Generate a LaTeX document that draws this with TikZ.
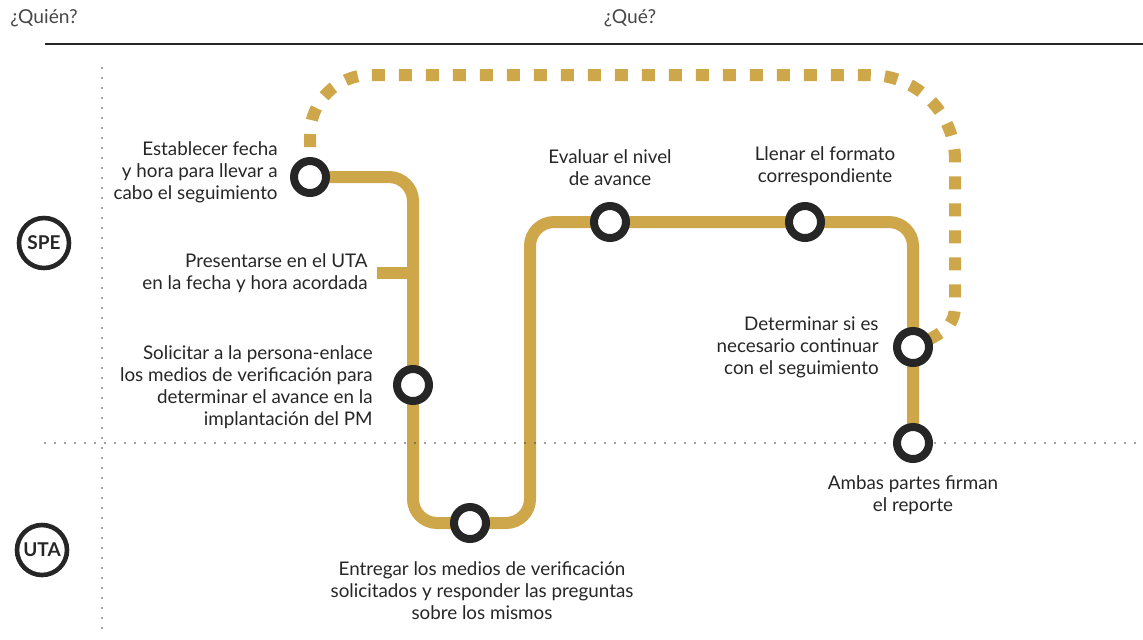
\documentclass[tikz,border=0pt]{standalone}
\usepackage{fontspec}
\setmainfont{Lato}
\usetikzlibrary{positioning,backgrounds}
\definecolor{oro}{RGB}{205,167,74}
\definecolor{tinta}{RGB}{38,38,38}
\definecolor{gris}{RGB}{70,70,70}
\tikzstyle{linea} = [draw=oro, line width=6pt, rounded corners=12pt]
\tikzstyle{punteada} = [draw=oro, line width=6pt, dash pattern=on 6.5pt off 7pt, dash phase=8.5pt]
\tikzstyle{estacion} = [circle, draw=tinta, fill=white, line width=4pt, minimum size=16pt, inner sep=0pt]
\tikzstyle{actor} = [circle, draw=tinta, line width=2.3pt, minimum size=25pt, inner sep=0pt, text=tinta, font=\fontsize{9.5}{11}\bfseries]
\tikzstyle{texto} = [text=tinta, inner sep=0pt, font=\fontsize{9.4}{11}\selectfont]
\tikzstyle{guia} = [draw=gris, line width=0.9pt, dash pattern=on 0pt off 5pt, line cap=round]

\begin{document}
\begin{tikzpicture}[x=0.5pt,y=-0.5pt]
\useasboundingbox (0,0) rectangle (1143,639);
% encabezado
\node[texto, text=gris, font=\fontsize{9.6}{11}\selectfont] (quien) at (44,18) {¿Quién?};
\node[texto, text=gris, font=\fontsize{9.6}{11}\selectfont] (que) at (630,18) {¿Qué?};
\draw[tinta, line width=1pt] (45,44) -- (1143,44);
\draw[guia] (102,68) -- (102,632);
\draw[guia] (45,443) -- (1143,443);

% actores
\node[actor] (spe) at (44,243) {SPE};
\node[actor] (uta) at (42,550) {UTA};

% estaciones
\node[estacion] (s1) at (310,177) {};
\coordinate (s2) at (413,273);
\node[estacion] (s3) at (413,385) {};
\node[estacion] (s5) at (470,523) {};
\node[estacion] (s6) at (610,222) {};
\node[estacion] (s7) at (805,222) {};
\node[estacion] (s8) at (913,347) {};
\node[estacion] (s9) at (913,443) {};

\begin{scope}[on background layer]
\draw[punteada] (s1.north) -- (310,135) arc[start angle=180, end angle=90, radius=30pt] -- (870,75)
  arc[start angle=90, end angle=0, radius=42.5pt] -- (955,305) .. controls (955,325) and (945,333) .. (s8.center);
\draw[linea] (s1.center) -| (s3.center) |- (s5.center) -| (530,222) -- (s6.center) -- (s7.center) -| (s8.center) -- (s9.center);
\draw[linea] (s2) -- ++(-36,0) coordinate (s2e);
\end{scope}

% textos
\node[texto, align=right, left=6pt of s1, yshift=2.5pt] (t1) {Establecer fecha\\y hora para llevar a\\cabo el seguimiento};
\node[texto, align=right, left=4.5pt of s2e] (t2) {Presentarse en el UTA\\en la fecha y hora acordada};
\node[texto, align=right, left=10pt of s3, yshift=-1pt] (t3) {Solicitar a la persona-enlace\\los medios de verificación para\\determinar el avance en la\\implantación del PM};
\node[texto, align=center, below=9pt of s5, xshift=6pt] (t5) {Entregar los medios de verificación\\solicitados y responder las preguntas\\sobre los mismos};
\node[texto, align=center, above=8pt of s6] (t6) {Evaluar el nivel\\de avance};
\node[texto, align=center, above=8pt of s7, xshift=10pt] (t7) {Llenar el formato\\correspondiente};
\node[texto, align=right, left=7pt of s8] (t8) {Determinar si es\\necesario continuar\\con el seguimiento};
\node[texto, align=center, below=6pt of s9] (t9) {Ambas partes firman\\el reporte};
\end{tikzpicture}
\end{document}
